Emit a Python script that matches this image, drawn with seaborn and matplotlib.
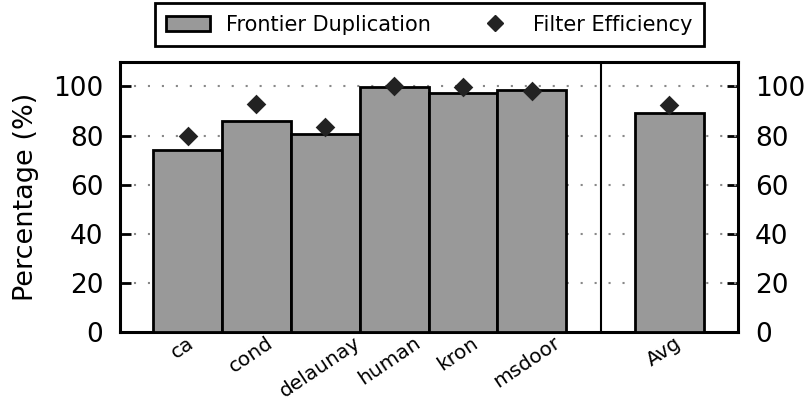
import matplotlib
matplotlib.use("Agg")
import matplotlib.pyplot as plt
import matplotlib.transforms as mtransforms
import seaborn as sns
import pandas as pd
from matplotlib.patches import Patch
from matplotlib.lines import Line2D

categories = ["ca", "cond", "delaunay", "human", "kron", "msdoor", "Avg"]
frontier_dup = [74.0, 86.0, 80.5, 99.8, 97.4, 98.6, 89.3]
filter_eff = [80.0, 93.0, 83.5, 100.0, 99.6, 98.2, 92.4]
order = ["ca", "cond", "delaunay", "human", "kron", "msdoor", " ", "Avg"]
yticks = [0, 20, 40, 60, 80, 100]

df = pd.DataFrame({"cat": categories, "dup": frontier_dup, "eff": filter_eff})

sns.set_style("white")
plt.rcParams["font.family"] = ["DejaVu Sans"]
plt.rcParams.update({"text.color": "black", "axes.labelcolor": "black",
                     "xtick.color": "black", "ytick.color": "black"})

fig = plt.figure(figsize=(8.06, 4.04), dpi=100)
ax = fig.add_axes([0.149, 0.178, 0.767, 0.669])

sns.barplot(data=df, x="cat", y="dup", order=order, width=1.0, color="#999999",
            saturation=1, edgecolor="black", linewidth=2, ax=ax, zorder=3)
sns.stripplot(data=df, x="cat", y="eff", order=order, jitter=False, marker="D",
              color="#222222", size=10, ax=ax, zorder=4)

ax.set_xlim(-0.98, 8.0)
ax.set_ylim(0, 110)
ax.set_yticks(yticks)
for y in yticks[1:]:
    ax.axhline(y, color="#888888", linestyle=(0, (1, 5.7)), linewidth=1.5, zorder=1)
ax.axvline(6, color="black", linewidth=1.5, zorder=2)

ax.set_xlabel("")
ax.set_ylabel("Percentage (%)", fontsize=19.5, labelpad=10)
ax.tick_params(axis="y", direction="in", length=8, width=2, labelsize=19,
               left=True, right=True, labelleft=True, labelright=True, pad=12)
ax.tick_params(axis="x", length=0, labelsize=14.5, pad=1)
shift = mtransforms.ScaledTranslation(-5 / 100, 0, fig.dpi_scale_trans)
for lbl in ax.get_xticklabels():
    lbl.set_rotation(34)
    lbl.set_ha("center")
    lbl.set_transform(lbl.get_transform() + shift)
for sp in ax.spines.values():
    sp.set_visible(True)
    sp.set_linewidth(2.2)
    sp.set_color("black")

handles = [Patch(facecolor="#999999", edgecolor="black", linewidth=2),
           Line2D([], [], marker="D", color="#222222", linestyle="none", markersize=8)]
leg = ax.legend(handles, ["Frontier Duplication", "Filter Efficiency"], ncol=2,
                loc="lower center", bbox_to_anchor=(0.5, 1.0), fontsize=15,
                frameon=True, fancybox=False, edgecolor="black", framealpha=1,
                columnspacing=2.0, handlelength=2.1, handletextpad=0.78,
                borderpad=0.55, borderaxespad=0.75)
leg.get_frame().set_linewidth(2)

fig.savefig("out.png", dpi=100)
